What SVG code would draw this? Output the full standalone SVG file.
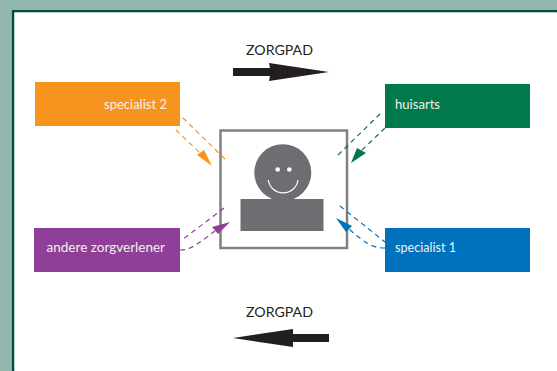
<svg xmlns="http://www.w3.org/2000/svg" width="557" height="371" viewBox="0 0 557 371">
<style>
text{font-family:"Lato","Liberation Sans",sans-serif}
.lbl{font-size:13px;fill:#f4f0ee}
.zp{font-size:13.500px;fill:#231f20}
.dash{fill:none;stroke-width:1.200;stroke-dasharray:5 4}
.o{stroke:#f7941e}.g{stroke:#007a4a}.p{stroke:#8f3f97}.b{stroke:#0071bc}
.bar{fill:#231f20}
.face{fill:#6d6e71}
</style>
<rect width="557" height="371" fill="#93b7ae"/>
<path d="M13.200 371V11.200H557" fill="#fff" stroke="#004b45" stroke-width="2.600"/>
<rect x="14.500" y="12.500" width="543" height="359" fill="#fff"/>
<g id="zorgpad-top"><text class="zp" x="246" y="55" textLength="67" lengthAdjust="spacingAndGlyphs">ZORGPAD</text></g>
<g id="zorgpad-bottom"><text class="zp" x="246" y="317" textLength="67" lengthAdjust="spacingAndGlyphs">ZORGPAD</text></g>
<g id="specialist-2"><rect x="35" y="82" width="145" height="44" fill="#f7941e"/><text class="lbl" x="104" y="109" textLength="63" lengthAdjust="spacingAndGlyphs">specialist 2</text></g>
<g id="huisarts"><rect x="385" y="84" width="145" height="44" fill="#007a4a"/><text class="lbl" x="395" y="109" textLength="45" lengthAdjust="spacingAndGlyphs">huisarts</text></g>
<g id="andere-zorgverlener"><rect x="34" y="228" width="146" height="44" fill="#8f3f97"/><text class="lbl" x="46.500" y="252" textLength="118.500" lengthAdjust="spacingAndGlyphs">andere zorgverlener</text></g>
<g id="specialist-1"><rect x="385" y="228" width="145" height="44" fill="#0071bc"/><text class="lbl" x="395" y="252" textLength="61" lengthAdjust="spacingAndGlyphs">specialist 1</text></g>
<g id="patient">
<rect x="220.500" y="130.500" width="126.500" height="117.500" fill="#fff" stroke="#808080" stroke-width="2.500"/>
<circle class="face" cx="282.800" cy="172.700" r="28.500"/>
<rect class="face" x="240.500" y="199" width="83" height="32"/>
<circle cx="277.700" cy="169.500" r="2.300" fill="#fff"/>
<circle cx="289.300" cy="169.500" r="2.300" fill="#fff"/>
<path d="M268.300 180A15 15 0 0 0 298 180" fill="none" stroke="#fff" stroke-width="1.200"/>
</g>
<g id="connectors">
<path class="dash o" d="M225 159L180 115"/>
<path class="dash o" d="M176 130L200 153"/>
<polygon points="197,155 204,150 212,166" fill="#f7941e"/>
<path class="dash g" d="M338 155L382 112"/>
<path class="dash g" d="M385 128L361 151"/>
<polygon points="357,148 366,153 351,163" fill="#007a4a"/>
<path class="dash p" d="M224 208L182 240"/>
<path class="dash p" d="M180 250C190 250 195 246 215 231"/>
<polygon points="212,227 218,234 230,222" fill="#8f3f97"/>
<path class="dash b" d="M340 206L385 242"/>
<path class="dash b" d="M385 248C375 248 368 246 349 229"/>
<polygon points="352,226 346,232 336,218" fill="#0071bc"/>
<polygon class="bar" points="233,68 270,68 269,63 329,72 269,81 270,76 233,76"/>
<polygon class="bar" points="329,334 293,334 293,329 233,338 293,347 293,342 329,342"/>
</g>
</svg>
